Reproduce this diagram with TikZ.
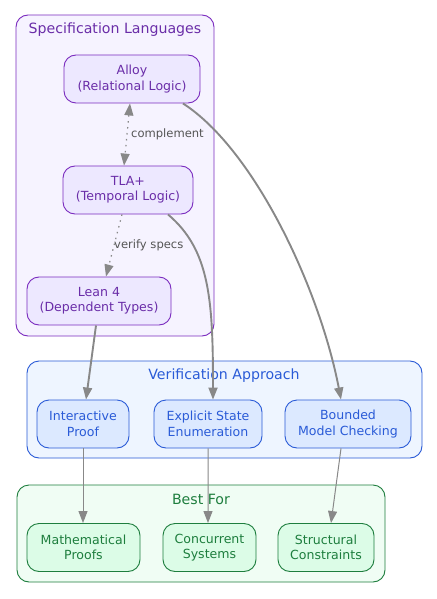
\documentclass[tikz,border=0pt]{standalone}
\usepackage{fontspec}
\setmainfont{DejaVu Sans}
\usetikzlibrary{arrows.meta}
\definecolor{pstroke}{HTML}{7B2CBF}
\definecolor{ptext}{HTML}{6A2DA8}
\definecolor{pclfill}{HTML}{F6F3FF}
\definecolor{pnfill}{HTML}{EDE8FF}
\definecolor{bstroke}{HTML}{2A5BD7}
\definecolor{btext}{HTML}{2A5BD7}
\definecolor{bclfill}{HTML}{EEF5FF}
\definecolor{bnfill}{HTML}{DCE9FF}
\definecolor{gstroke}{HTML}{1E7E3E}
\definecolor{gtext}{HTML}{1E7E3E}
\definecolor{gclfill}{HTML}{F0FDF4}
\definecolor{gnfill}{HTML}{DCFCE7}
\definecolor{edgegray}{HTML}{888888}
\definecolor{labgray}{HTML}{555555}
\tikzset{
  cluster/.style={rounded corners=12bp, line width=0.9bp},
  cltitle/.style={font=\fontsize{14.2}{17}\selectfont, inner sep=0pt},
  nodebox/.style={rounded corners=12bp, line width=0.9bp, align=center,
    font=\fontsize{12.6}{15.5}\selectfont, inner sep=0pt, minimum height=48bp},
  pnode/.style={nodebox, draw=pstroke, fill=pnfill, text=ptext},
  bnode/.style={nodebox, draw=bstroke, fill=bnfill, text=btext},
  gnode/.style={nodebox, draw=gstroke, fill=gnfill, text=gtext},
  tip/.style={-{Triangle[length=12bp,width=9bp]}},
  thickedge/.style={tip, draw=edgegray, line width=1.9bp},
  thinedge/.style={tip, draw=edgegray, line width=1bp},
  dotedge/.style={draw=edgegray, line width=1.2bp, dash pattern=on 1.5bp off 4.5bp},
  elabel/.style={font=\fontsize{11.6}{14}\selectfont, text=labgray, inner sep=0pt}
}
\begin{document}
\begin{tikzpicture}[x=1bp,y=-1bp]
\useasboundingbox (0,0) rectangle (437,599);
\fill[white] (0,0) rectangle (437,599);
% clusters
\draw[cluster, draw=pstroke, fill=pclfill] (16,15) rectangle (214,336);
\node[cltitle, text=ptext] (spectitle) at (115,30) {Specification Languages};
\draw[cluster, draw=bstroke, fill=bclfill] (27,361) rectangle (422,458);
\node[cltitle, text=btext] (vertitle) at (224,376) {Verification Approach};
\draw[cluster, draw=gstroke, fill=gclfill] (17,485) rectangle (385,582);
\node[cltitle, text=gtext] (besttitle) at (201,499) {Best For};
% spec nodes
\node[pnode, minimum width=136bp] (alloy) at (132,79) {Alloy\\(Relational Logic)};
\node[pnode, minimum width=130bp] (tla) at (128,190) {TLA+\\(Temporal Logic)};
\node[pnode, minimum width=144bp] (lean) at (99,301) {Lean 4\\(Dependent Types)};
% verification nodes
\node[bnode, minimum width=92bp] (inter) at (83,424) {Interactive\\Proof};
\node[bnode, minimum width=108bp] (explicit) at (208,424) {Explicit State\\Enumeration};
\node[bnode, minimum width=126bp] (bounded) at (348,424) {Bounded\\Model Checking};
% best-for nodes
\node[gnode, minimum width=113bp] (math) at (83.5,547.5) {Mathematical\\Proofs};
\node[gnode, minimum width=93bp] (conc) at (209.5,547.5) {Concurrent\\Systems};
\node[gnode, minimum width=96bp] (struct) at (326,547.5) {Structural\\Constraints};
% dotted edges
\draw[dotedge, {Triangle[length=12bp,width=9bp]}-{Triangle[length=12bp,width=9bp]}]
  ([xshift=-2bp]alloy.south) -- ([xshift=-4bp]tla.north);
\node[elabel, anchor=west] (lcomp) at (131,134) {complement};
\draw[dotedge, -{Triangle[length=12bp,width=9bp]}]
  ([xshift=-6bp]tla.south) -- ([xshift=7bp]lean.north);
\node[elabel, anchor=west] (lver) at (114,245) {verify specs};
% thick edges
\draw[thickedge] ([xshift=-3bp]lean.south) -- ([xshift=3bp]inter.north);
\draw[thickedge] ([xshift=40bp]tla.south) .. controls (210,250) and (213,300) .. ([xshift=5bp]explicit.north);
\draw[thickedge] ([xshift=51bp]alloy.south) .. controls (255,150) and (320,290) .. ([xshift=-7bp]bounded.north);
% thin edges
\draw[thinedge] (inter.south) -- ([xshift=-0.5bp]math.north);
\draw[thinedge] (explicit.south) -- ([xshift=-1.5bp]conc.north);
\draw[thinedge] ([xshift=-7bp]bounded.south) -- ([xshift=5bp]struct.north);
\end{tikzpicture}
\end{document}
